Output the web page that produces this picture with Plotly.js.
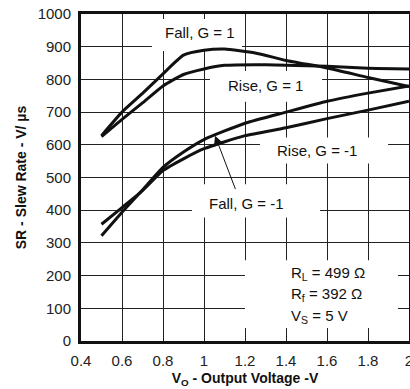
<!DOCTYPE html>
<html>
<head>
<meta charset="utf-8">
<script src="https://cdn.plot.ly/plotly-3.0.1.min.js"></script>
<style>html,body{margin:0;padding:0;background:#fff;}#chart{width:410px;height:389px;}</style>
</head>
<body>
<div id="chart"></div>
<script>
// Fall, G = 1
const fallG1_x = [0.5, 0.6, 0.7, 0.8, 0.9, 1.0, 1.1, 1.25, 1.4, 1.6, 1.8, 2.0];
const fallG1_y = [628, 700, 757, 817, 874, 889, 893, 881, 858, 835, 806, 778];
// Rise, G = 1
const riseG1_x = [0.5, 0.6, 0.7, 0.8, 0.9, 1.0, 1.1, 1.3, 1.6, 1.8, 2.0];
const riseG1_y = [625, 678, 728, 780, 815, 832, 843, 845, 840, 834, 832];
// Fall, G = -1
const fallGm1_x = [0.5, 0.6, 0.7, 0.8, 0.9, 1.0, 1.2, 1.4, 1.6, 1.8, 2.0];
const fallGm1_y = [322, 394, 462, 531, 578, 616, 666, 700, 733, 758, 780];
// Rise, G = -1
const riseGm1_x = [0.5, 0.6, 0.7, 0.8, 0.9, 1.0, 1.2, 1.4, 1.6, 1.8, 2.0];
const riseGm1_y = [357, 408, 460, 521, 557, 588, 628, 652, 680, 706, 733];

const xTicks = [0.4, 0.6, 0.8, 1, 1.2, 1.4, 1.6, 1.8, 2];
const xTickText = ['0.4', '0.6', '0.8', '1', '1.2', '1.4', '1.6', '1.8', '2'];
const yTicks = [0, 100, 200, 300, 400, 500, 600, 700, 800, 900, 1000];

const line = {color: '#111', width: 3, shape: 'spline', smoothing: 0.5};
const traces = [
  {x: fallG1_x, y: fallG1_y, name: 'Fall, G = 1'},
  {x: riseG1_x, y: riseG1_y, name: 'Rise, G = 1'},
  {x: fallGm1_x, y: fallGm1_y, name: 'Fall, G = -1'},
  {x: riseGm1_x, y: riseGm1_y, name: 'Rise, G = -1'}
].map(t => Object.assign(t, {type: 'scatter', mode: 'lines', line: line, hoverinfo: 'skip'}));

const font = {family: '"Liberation Sans", Arial, sans-serif', size: 15, color: '#111'};
const box = (x0, x1, y0, y1) => ({type: 'rect', xref: 'x', yref: 'y', x0: x0, x1: x1, y0: y0, y1: y1,
  fillcolor: '#fff', line: {width: 0}, layer: 'between'});
const label = (text, x, y, extra) => Object.assign({text: text, x: x, y: y, xref: 'x', yref: 'y',
  showarrow: false, font: font}, extra || {});

const layout = {
  width: 410, height: 389,
  margin: {l: 81, r: 1, t: 14, b: 48},
  paper_bgcolor: '#fff', plot_bgcolor: '#fff',
  showlegend: false,
  font: font,
  xaxis: {
    range: [0.39999, 2.00001], tickvals: xTicks, ticktext: xTickText,
    showgrid: true, gridcolor: '#222', gridwidth: 1,
    showline: true, linecolor: '#111', linewidth: 3, mirror: true,
    ticks: '', ticklabelstandoff: 4, ticklabeloverflow: 'allow', zeroline: false,
    tickfont: {family: font.family, size: 15, color: '#222'},
    title: {text: 'V<sub>O</sub> - Output Voltage -V', standoff: 6,
      font: {family: font.family, size: 14, color: '#111', weight: 'bold'}}
  },
  yaxis: {
    range: [0, 1000], tickvals: yTicks,
    showgrid: true, gridcolor: '#222', gridwidth: 1,
    showline: true, linecolor: '#111', linewidth: 3, mirror: true,
    ticks: '', ticklabelstandoff: 4, ticklabeloverflow: 'allow', zeroline: false,
    tickfont: {family: font.family, size: 15, color: '#222'},
    title: {text: 'SR - Slew Rate - V/ µs', standoff: 8,
      font: {family: font.family, size: 14, color: '#111', weight: 'bold'}}
  },
  shapes: [
    box(0.746, 1.185, 887, 985),
    box(1.029, 1.576, 732, 826),
    box(1.273, 1.898, 543, 622),
    box(0.941, 1.566, 378, 479),
    box(1.2, 1.946, 40, 247)
  ],
  annotations: [
    label('Fall, G = 1', 0.98, 942),
    label('Rise, G = 1', 1.298, 780),
    label('Rise, G = -1', 1.551, 582),
    label('Fall, G = -1', 1.205, 421),
    {x: 1.054, y: 628, ax: 1.156, ay: 460, axref: 'x', ayref: 'y', xref: 'x', yref: 'y',
     text: '', showarrow: true, arrowhead: 2, arrowsize: 2, arrowwidth: 1, arrowcolor: '#111', standoff: 0},
    label('R<sub>L</sub> = 499 Ω', 1.415, 207, {xanchor: 'left'}),
    label('R<sub>f</sub> = 392 Ω', 1.415, 143, {xanchor: 'left'}),
    label('V<sub>S</sub> = 5 V', 1.415, 76, {xanchor: 'left'})
  ]
};

Plotly.newPlot('chart', traces, layout, {staticPlot: true, displayModeBar: false});
</script>
</body>
</html>
